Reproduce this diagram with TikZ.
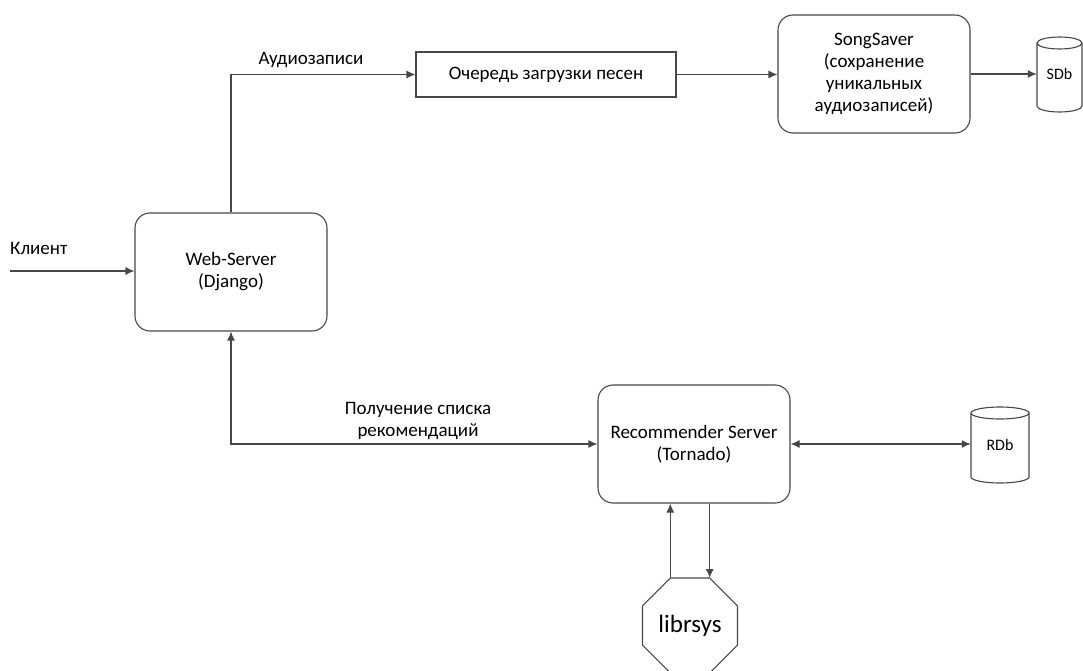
\documentclass[tikz,border=0pt]{standalone}
\usepackage{fontspec}
\setmainfont{Carlito}
\usetikzlibrary{arrows.meta,shapes.geometric}
\begin{document}
\begin{tikzpicture}[x=1pt,y=-1pt,
  every node/.style={font=\fontsize{19}{22}\selectfont, text=black},
  line/.style={draw=black!72, line width=1.1pt},
  arr/.style={line, -{Latex[length=9pt,width=8pt]}},
  darr/.style={line, {Latex[length=9pt,width=8pt]}-{Latex[length=9pt,width=8pt]}},
  rbox/.style={line, rounded corners=15pt, minimum width=192pt, minimum height=118pt, inner sep=0pt, align=center},
  qbox/.style={line, minimum width=260pt, minimum height=45pt, inner sep=0pt},
  cyl/.style={line, fill=white},
  lbl/.style={align=center, inner sep=0pt}
]
\useasboundingbox (0,0) rectangle (1083,671);

% boxes
\node[rbox] (web) at (231,272) {Web-Server\\(Django)};
\node[qbox] (queue) at (546,74.5) {Очередь загрузки песен};
\node[rbox] (song) at (874,74) {SongSaver\\(сохранение\\уникальных\\аудиозаписей)};
\node[rbox] (rec) at (694,444) {Recommender Server\\(Tornado)};

% cylinders
\draw[cyl] (1037,43) -- (1037,106) arc[start angle=180,end angle=0,x radius=22.5,y radius=6] -- (1082,43) arc[start angle=0,end angle=-180,x radius=22.5,y radius=6] -- cycle;
\draw[line] (1037,43) arc[start angle=180,end angle=0,x radius=22.5,y radius=6];
\node[minimum width=45pt, minimum height=76pt, inner sep=0pt] (sdb) at (1059.5,74.5) {\fontsize{16}{18}\selectfont SDb};

\draw[cyl] (971,413) -- (971,477) arc[start angle=180,end angle=0,x radius=29,y radius=6] -- (1029,413) arc[start angle=0,end angle=-180,x radius=29,y radius=6] -- cycle;
\draw[line] (971,413) arc[start angle=180,end angle=0,x radius=29,y radius=6];
\node[minimum width=58pt, minimum height=76pt, inner sep=0pt] (rdb) at (1000,445) {\fontsize{16}{18}\selectfont RDb};

% octagon
\node[line, regular polygon, regular polygon sides=8, minimum size=102.8pt, inner sep=0pt, outer sep=0pt,
      font=\fontsize{25}{28}\selectfont] (lib) at (690,625.5) {librsys};

% client
\coordinate (cl) at (10,271);
\node[lbl, anchor=west] (cllbl) at (10,248) {Клиент};
\draw[arr] (cl) -- (cl -| web.west);

% web -> queue
\coordinate (bend1) at (231,74.5);
\draw[arr] (web.north) -- (bend1) -- (queue.west);
\node[lbl] (audlbl) at (311,60) {Аудиозаписи};

\draw[arr] (queue.east) -- (queue.east -| song.west);
\draw[arr] (song.east) -- (song.east -| sdb.west);

% rec <-> web
\coordinate (bend2) at (231,444);
\draw[darr] (web.south) -- (bend2) -- (rec.west);
\node[lbl] (reclbl) at (418,421) {Получение списка\\рекомендаций};

\draw[darr] (rec.east) -- (rec.east -| rdb.west);

% rec <-> librsys
\coordinate (l1) at (670.3,578);
\coordinate (l2) at (709.7,578);
\draw[arr] (l1) -- (l1 |- rec.south);
\draw[arr] (l2 |- rec.south) -- (l2);
\end{tikzpicture}
\end{document}
